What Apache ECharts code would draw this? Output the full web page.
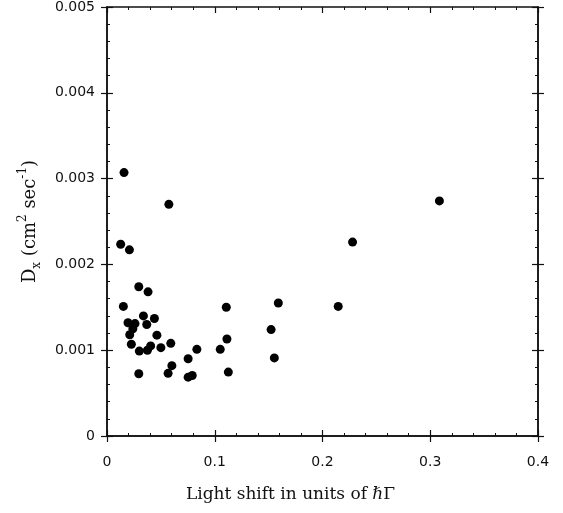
<!DOCTYPE html>
<html>
<head>
<meta charset="utf-8">
<script src="https://cdn.jsdelivr.net/npm/echarts@6/dist/echarts.min.js"></script>
<style>
  html, body { margin: 0; padding: 0; background: #fff; }
  #chart { width: 563px; height: 513px; }
</style>
</head>
<body>
<div id="chart"></div>
<script>
// Light shift (units of hbar*Gamma) for each measurement
const lightShift = [
    0.0158, 0.0574, 0.0127, 0.0208, 0.0295, 0.0381, 0.0152, 0.1107, 0.0338, 0.0440,
    0.0195, 0.0260, 0.0369, 0.0240, 0.0211, 0.0463, 0.0226, 0.0592, 0.1113, 0.0300,
    0.0375, 0.0405, 0.0500, 0.0834, 0.1051, 0.0753, 0.0602, 0.0295, 0.0567, 0.0753,
    0.0791, 0.1126, 0.1590, 0.2146, 0.1523, 0.1553, 0.3085, 0.2279
];

// Diffusion coefficient D_x (cm^2 / sec)
const diffusion = [
    0.00307, 0.00270, 0.002235, 0.00217, 0.00174, 0.00168, 0.00151, 0.00150, 0.00140, 0.00137,
    0.00132, 0.00131, 0.00130, 0.00125, 0.00118, 0.001175, 0.00107, 0.00108, 0.00113, 0.00099,
    0.00100, 0.00105, 0.00103, 0.00101, 0.00101, 0.00090, 0.00082, 0.000725, 0.00073, 0.000686,
    0.000705, 0.000745, 0.00155, 0.00151, 0.00124, 0.00091, 0.00274, 0.00226
];

const xTicks = ['0', '0.1', '0.2', '0.3', '0.4'];
const yTicks = ['0', '0.001', '0.002', '0.003', '0.004', '0.005'];

const points = lightShift.map((x, i) => [x, diffusion[i]]);

const ink = '#111';
const lineStyle = { color: ink, width: 1.5 };

// one axis of a frame side; ticks either inside or outside
function xSide(pos, opts) {
    return Object.assign({
        type: 'value', position: pos, min: 0, max: 0.4, interval: 0.1,
        axisLine: { show: true, onZero: false, lineStyle: lineStyle },
        splitLine: { show: false },
        axisLabel: { show: false },
        axisTick: { show: true, inside: true, length: 6, lineStyle: { color: ink, width: 1.2 } },
        minorTick: { show: true, splitNumber: 5, length: 3, lineStyle: { color: ink, width: 1 } }
    }, opts);
}

function ySide(pos, opts) {
    return Object.assign({
        type: 'value', position: pos, min: 0, max: 0.005, interval: 0.001,
        axisLine: { show: true, onZero: false, lineStyle: lineStyle },
        splitLine: { show: false },
        axisLabel: { show: false },
        axisTick: { show: true, inside: true, length: 6, lineStyle: { color: ink, width: 1.2 } },
        minorTick: { show: true, splitNumber: 5, length: 3, lineStyle: { color: ink, width: 1 } }
    }, opts);
}

const chart = echarts.init(document.getElementById('chart'));

chart.setOption({
    backgroundColor: '#fff',
    animation: false,
    grid: { left: 107, right: 25, top: 5, bottom: 77 },
    xAxis: [
        xSide('bottom', {
            name: 'Light shift in units of \u210F\u0393',
            nameLocation: 'middle',
            nameGap: 50,
            nameTextStyle: { fontFamily: 'DejaVu Serif', fontSize: 17, color: ink, padding: [0, 64, 0, 0] },
            axisLabel: {
                show: true, margin: 19, color: ink, fontFamily: 'DejaVu Sans', fontSize: 14,
                formatter: (v) => xTicks[Math.round(v * 10)]
            },
            axisTick: { show: true, inside: false, length: 6, lineStyle: { color: ink, width: 1.2 } },
            minorTick: { show: false }
        }),
        xSide('bottom', {}),
        xSide('top', {})
    ],
    yAxis: [
        ySide('left', {
            name: '{b|D}{sub|x}{b| (cm}{sup|2}{b| sec}{sup|-1}{b|)}',
            nameLocation: 'middle',
            nameGap: 64,
            nameRotate: 90,
            nameTextStyle: {
                color: ink,
                rich: {
                    b: { fontFamily: 'DejaVu Serif', fontSize: 18, color: ink, lineHeight: 26 },
                    sup: { fontFamily: 'DejaVu Serif', fontSize: 12, color: ink, verticalAlign: 'top', lineHeight: 14 },
                    sub: { fontFamily: 'DejaVu Serif', fontSize: 12, color: ink, verticalAlign: 'bottom', lineHeight: 14 }
                }
            },
            axisLabel: {
                show: true, margin: 12, color: ink, fontFamily: 'DejaVu Sans', fontSize: 14,
                formatter: (v) => yTicks[Math.round(v * 1000)]
            },
            axisTick: { show: true, inside: false, length: 6, lineStyle: { color: ink, width: 1.2 } },
            minorTick: { show: false }
        }),
        ySide('left', {}),
        ySide('right', {}),
        ySide('right', {
            axisTick: { show: true, inside: false, length: 6, lineStyle: { color: ink, width: 1.2 } },
            minorTick: { show: false }
        })
    ],
    series: [{
        type: 'scatter',
        xAxisIndex: 0,
        yAxisIndex: 0,
        symbol: 'circle',
        symbolSize: 9,
        itemStyle: { color: '#000', opacity: 1 },
        data: points
    }]
});
</script>
</body>
</html>
